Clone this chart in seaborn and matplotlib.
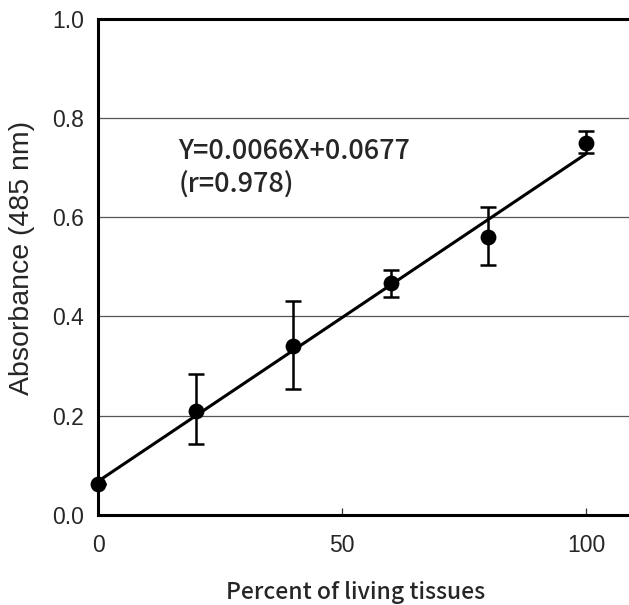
import matplotlib
matplotlib.use("Agg")
import matplotlib.pyplot as plt
import numpy as np
import pandas as pd
import seaborn as sns

# data
percent = [0, 20, 40, 60, 80, 100]
absorbance = [0.063, 0.209, 0.341, 0.467, 0.560, 0.750]
err_low = [0.063, 0.142, 0.253, 0.440, 0.503, 0.730]
err_high = [0.063, 0.283, 0.431, 0.493, 0.620, 0.773]

slope = 0.0066
intercept = 0.0677
r_value = 0.978

sns.set_theme(style="white")
plt.rcParams['font.family'] = ['Noto Sans CJK JP', 'DejaVu Sans']
plt.rcParams['font.weight'] = 'medium'

df = pd.DataFrame({"percent": percent, "absorbance": absorbance})
fit_x = np.array([percent[0], percent[-1]])
fit = pd.DataFrame({"percent": fit_x, "absorbance": slope * fit_x + intercept})

fig = plt.figure(figsize=(6.29, 6.05), dpi=100)
ax = fig.add_axes([0.156, 0.149, 0.844, 0.82])

# grid lines
for g in [0.2, 0.4, 0.6, 0.8]:
    ax.axhline(g, color="#555555", lw=0.9, zorder=0)

# regression line
sns.lineplot(data=fit, x="percent", y="absorbance", color="black", lw=2.2, ax=ax, zorder=2)

# error bars
yerr = [np.array(absorbance) - np.array(err_low), np.array(err_high) - np.array(absorbance)]
ax.errorbar(percent, absorbance, yerr=yerr, fmt="none", ecolor="black",
            elinewidth=1.8, capsize=6, capthick=1.8, zorder=3)

# points
sns.scatterplot(data=df, x="percent", y="absorbance", color="black", s=130,
                edgecolor="black", linewidth=0, ax=ax, zorder=4, clip_on=False)

ax.text(16.4, 0.733, f"Y={slope}X+{intercept}", fontsize=19.5, va="center", ha="left")
ax.text(16.4, 0.665, f"(r={r_value})", fontsize=19.5, va="center", ha="left")

ax.set_xlim(0, 108.8)
ax.set_ylim(0, 1.0)
ax.set_xticks([0, 50, 100])
ax.set_yticks([0.0, 0.2, 0.4, 0.6, 0.8, 1.0])
ax.set_yticklabels(["0.0", "0.2", "0.4", "0.6", "0.8", "1.0"])
ax.tick_params(axis="x", direction="in", length=5, width=0.9, color="#333333",
               labelsize=16.5, pad=14, bottom=True)
ax.tick_params(axis="y", length=0, labelsize=16.5, pad=10)
for lab in ax.get_xticklabels() + ax.get_yticklabels():
    lab.set_family(["Liberation Sans", "DejaVu Sans"])
    lab.set_weight("normal")

for side in ["left", "bottom", "top"]:
    ax.spines[side].set_linewidth(2.2)
    ax.spines[side].set_color("black")
ax.spines["right"].set_visible(False)

ax.set_xlabel("Percent of living tissues", fontsize=16.5, fontweight="medium", va="center")
ax.set_ylabel("Absorbance (485 nm)", fontsize=20.5, va="center",
              family=["Liberation Sans", "DejaVu Sans"])
ax.xaxis.set_label_coords(0.484, -0.157)
ax.yaxis.set_label_coords(-0.143, 0.518)

fig.savefig("out.png", dpi=100)
